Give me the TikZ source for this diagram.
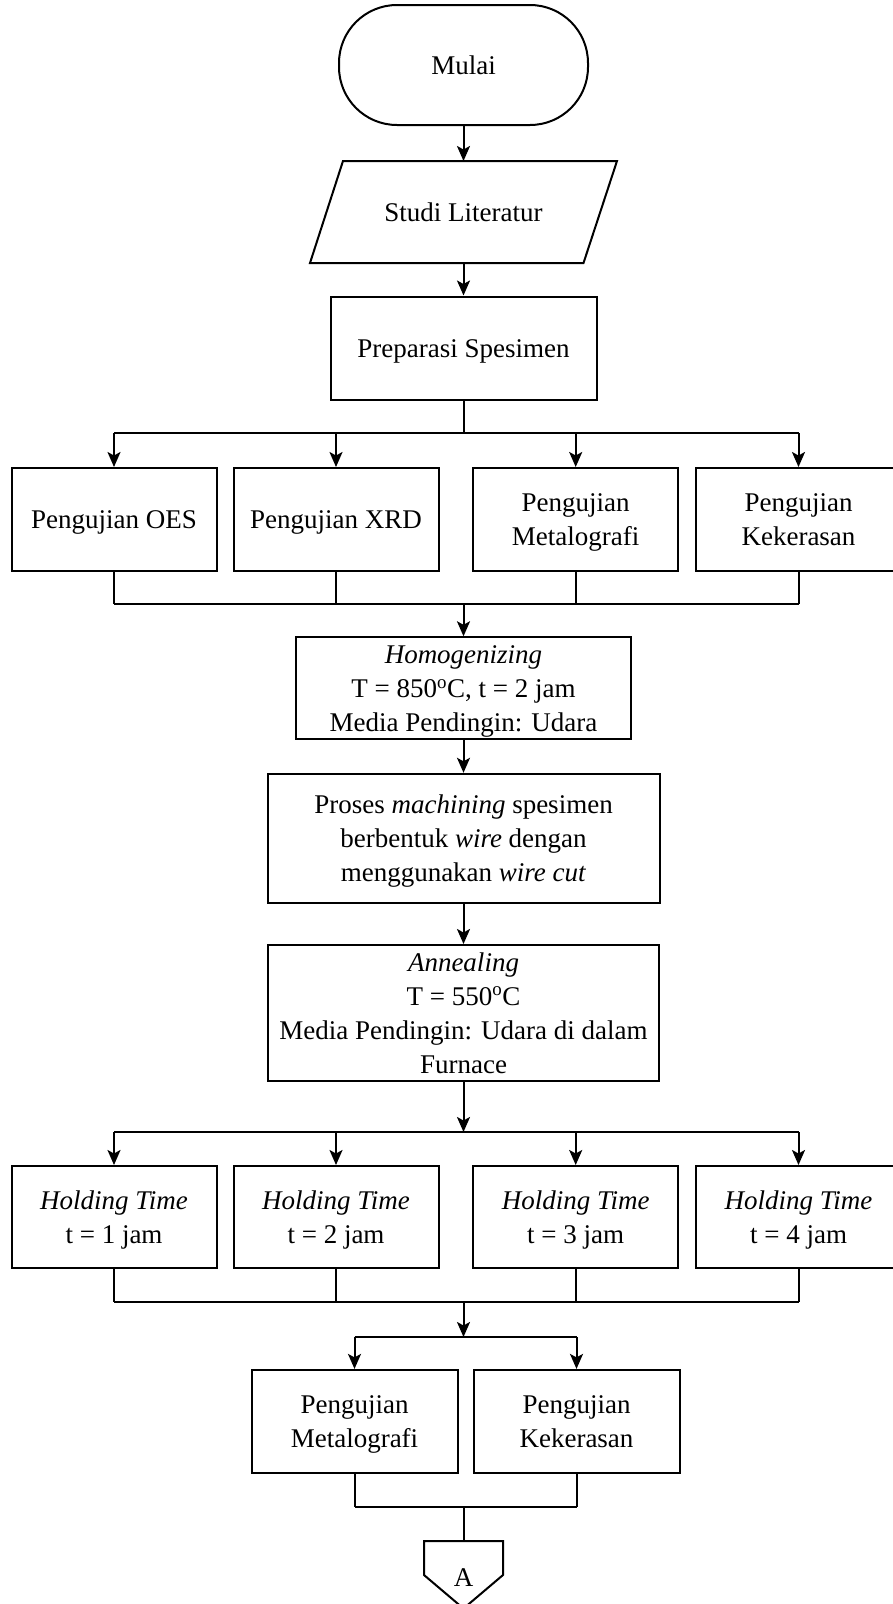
\documentclass[tikz,border=0pt]{standalone}
\usepackage{fontspec}
\setmainfont{Liberation Serif}
\usetikzlibrary{arrows.meta}

% first-line strut, so that the text sits a little low in its box
\newcommand{\boxstrut}{\rule{0pt}{24pt}}

\tikzset{
    box/.style={draw, rectangle, line width=2pt, align=center, inner sep=2pt,
        font=\fontsize{27}{34}\selectfont,
        execute at end node={\rule[-6pt]{0pt}{6pt}}},
    line/.style={line width=2pt},
    arrow/.style={line width=2pt, -{Stealth[length=15pt,width=13pt,inset=3.5pt]}},
}

\begin{document}
\begin{tikzpicture}[x=1pt,y=-1pt]
        \useasboundingbox (0,0) rectangle (893,1604);

        % Start, input and preparation
        \node[box, rounded corners=58pt, minimum width=249pt, minimum height=120pt] (mulai) at (463.5,65) {\boxstrut Mulai};
        \node[box, draw=none, outer sep=0pt, minimum width=240pt, minimum height=102pt] (studi) at (463.5,212) {\boxstrut Studi Literatur};
        \draw[line] ([xshift=-120.5pt]studi.north) -- ([xshift=153.5pt]studi.north)
            -- ([xshift=120pt]studi.south) -- ([xshift=-153.5pt]studi.south) -- cycle;
        \node[box, minimum width=266pt, minimum height=103pt] (prep) at (463.5,348) {\boxstrut Preparasi Spesimen};

        \draw[arrow] (mulai.south) -- (studi.north);
        \draw[arrow] (studi.south) -- (prep.north);

        % First tests
        \foreach \x/\name/\txt in {114/oes/Pengujian OES, 336/xrd/Pengujian XRD, 575.7/metalo/Pengujian\\Metalografi, 798.5/keras/Pengujian\\Kekerasan}
            {
                \node[box, minimum width=205pt, minimum height=103pt] (\name) at (\x,519.5) {\boxstrut\txt};
            }

        \coordinate (split1) at (463.5,433);
        \coordinate (join1) at (463.5,604);
        \draw[line] (prep.south) -- (split1);
        \draw[line] (oes.north |- split1) -- (keras.north |- split1);
        \draw[line] (oes.south |- join1) -- (keras.south |- join1);
        \foreach \name in {oes, xrd, metalo, keras}
            {
                \draw[arrow] (\name.north |- split1) -- (\name.north);
                \draw[line] (\name.south) -- (\name.south |- join1);
            }

        % Heat treatment
        \node[box, minimum width=335pt, minimum height=102pt] (homog) at (463.5,688.3)
            {\boxstrut\textit{Homogenizing}\\T = 850\textsuperscript{o}C, t = 2 jam\\Media Pendingin: Udara};
        \node[box, minimum width=392pt, minimum height=129pt] (proses) at (463.5,838.3)
            {\boxstrut Proses \textit{machining} spesimen\\berbentuk \textit{wire} dengan\\menggunakan \textit{wire cut}};
        \node[box, minimum width=391pt, minimum height=136pt] (anneal) at (463.5,1013)
            {\boxstrut\textit{Annealing}\\T = 550\textsuperscript{o}C\\Media Pendingin: Udara di dalam\\Furnace};

        \draw[arrow] (join1) -- (homog.north);
        \draw[arrow] (homog.south) -- (proses.north);
        \draw[arrow] (proses.south) -- (anneal.north);

        % Holding time
        \foreach \x/\name/\t in {114/hold1/1, 336/hold2/2, 575.7/hold3/3, 798.5/hold4/4}
            {
                \node[box, minimum width=205pt, minimum height=102pt] (\name) at (\x,1217) {\boxstrut\textit{Holding Time}\\t = \t{} jam};
            }

        \coordinate (split2) at (463.5,1132);
        \coordinate (join2) at (463.5,1302);
        \draw[arrow] (anneal.south) -- (split2);
        \draw[line] (hold1.north |- split2) -- (hold4.north |- split2);
        \draw[line] (hold1.south |- join2) -- (hold4.south |- join2);
        \foreach \name in {hold1, hold2, hold3, hold4}
            {
                \draw[arrow] (\name.north |- split2) -- (\name.north);
                \draw[line] (\name.south) -- (\name.south |- join2);
            }

        % Final tests
        \node[box, minimum width=206pt, minimum height=103pt] (metalo2) at (354.5,1421.4) {\boxstrut Pengujian\\Metalografi};
        \node[box, minimum width=206pt, minimum height=103pt] (keras2) at (576.5,1421.4) {\boxstrut Pengujian\\Kekerasan};

        \coordinate (split3) at (463.5,1337);
        \coordinate (join3) at (463.5,1506.7);
        \draw[arrow] (join2) -- (split3);
        \draw[line] (metalo2.north |- split3) -- (keras2.north |- split3);
        \draw[line] (metalo2.south |- join3) -- (keras2.south |- join3);
        \foreach \name in {metalo2, keras2}
            {
                \draw[arrow] (\name.north |- split3) -- (\name.north);
                \draw[line] (\name.south) -- (\name.south |- join3);
            }

        % Off-page connector
        \coordinate (offtop) at (463.5,1541);
        \draw[line] (424,1541) -- (503,1541) -- (503,1575) -- (463.5,1608.5) -- (424,1575) -- cycle;
        \node[font=\fontsize{27}{34}\selectfont] (offA) at (463.5,1578) {A};
        \draw[line] (join3) -- (offtop);
\end{tikzpicture}
\end{document}
